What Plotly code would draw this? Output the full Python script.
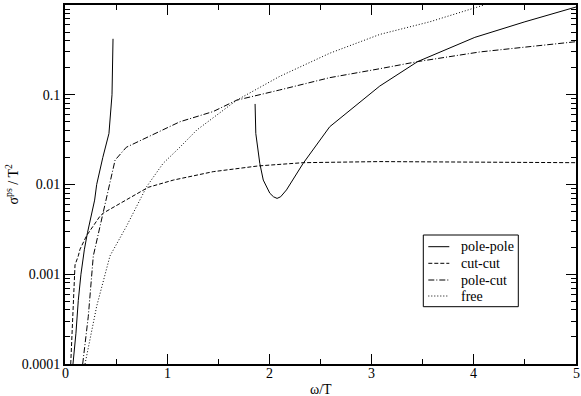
import plotly.graph_objects as go

# ===== data =====
# pole-pole: two branches (low-omega branch and the branch starting near 2T)
pp_x1 = [0.078, 0.107, 0.13, 0.156, 0.19, 0.22, 0.29, 0.31, 0.37, 0.43, 0.46, 0.465, 0.47]
pp_y1 = [1e-4, 2.2e-4, 5.1e-4, 1e-3, 1.9e-3, 2.9e-3, 6.7e-3, 0.01, 0.02, 0.037, 0.1, 0.2, 0.42]
pp_x2 = [1.86, 1.867, 1.906, 1.94, 2.004, 2.04, 2.075, 2.11, 2.167, 2.33, 2.59, 2.82, 3.08, 3.45, 4.01, 4.5, 5.0]
pp_y2 = [0.079, 0.037, 0.0172, 0.0112, 0.008, 0.0073, 0.0070, 0.0073, 0.0087, 0.0172, 0.044, 0.072, 0.125, 0.234, 0.436, 0.65, 0.95]

cc_x = [0.056, 0.098, 0.13, 0.147, 0.212, 0.34, 0.374, 0.6, 0.814, 1.06, 1.45, 1.89, 2.33, 3.08, 4.0, 5.0]
cc_y = [1e-4, 0.00127, 0.0016, 0.0019, 0.0027, 0.0044, 0.0048, 0.0067, 0.0093, 0.0112, 0.0139, 0.0161, 0.0175, 0.018, 0.0179, 0.0175]

pc_x = [0.173, 0.228, 0.277, 0.374, 0.49, 0.6, 0.814, 1.06, 1.124, 1.45, 1.68, 2.10, 2.59, 3.08, 3.45, 4.06, 5.0]
pc_y = [1e-4, 3.4e-4, 0.0016, 0.0048, 0.0187, 0.026, 0.034, 0.046, 0.050, 0.065, 0.087, 0.113, 0.155, 0.195, 0.234, 0.30, 0.39]

fr_x = [0.196, 0.31, 0.44, 0.60, 0.80, 0.96, 1.124, 1.29, 1.68, 2.10, 2.59, 3.08, 3.57, 4.06, 4.1]
fr_y = [1e-4, 4.4e-4, 0.0016, 0.0034, 0.0095, 0.0172, 0.026, 0.0405, 0.087, 0.16, 0.29, 0.47, 0.65, 0.975, 1.0]

x_ticks = [0, 1, 2, 3, 4, 5]
y_ticks = [1e-4, 1e-3, 1e-2, 1e-1, 1]
y_labels = ["0.0001", "0.001", "0.01", "0.1", "1"]

series_names = ['pole-pole', 'cut-cut', 'pole-cut', 'free']
series_dash = ['solid', '4px,2px', '6px,2px,1px,2px', '1px,2px']

FONT = "Liberation Serif, DejaVu Serif, serif"
W, H = 581, 396
ML, MR, MT, MB = 65, 5, 5, 32

fig = go.Figure()
xs = [pp_x1 + [None] + pp_x2, cc_x, pc_x, fr_x]
ys = [pp_y1 + [None] + pp_y2, cc_y, pc_y, fr_y]
for x, y, name, dash in zip(xs, ys, series_names, series_dash):
    fig.add_trace(go.Scatter(x=x, y=y, mode='lines', name=name, connectgaps=False,
                             showlegend=False,
                             line=dict(color='black', width=1, dash=dash)))

fig.update_xaxes(range=[0, 5], tickvals=x_ticks, showticklabels=False,
                 ticks='inside', ticklen=10,
                 tickcolor='black', showline=True, linecolor='black', linewidth=2,
                 mirror='allticks', showgrid=False, zeroline=False, automargin=False,
                 minor=dict(ticks='inside', ticklen=5, dtick=0.5, tick0=0, tickcolor='black'))

# x tick labels sit close under the axis, as in the reference
for v in x_ticks:
    fig.add_annotation(text=str(v), xref='x', yref='paper', x=v, y=0,
                       xanchor='center', yanchor='middle', yshift=-9, showarrow=False,
                       font=dict(family=FONT, size=14, color='black'))

minor_vals = [m * 10 ** e for e in range(-4, 0) for m in range(2, 10)]
fig.update_yaxes(type='log', range=[-4, 0], tickvals=y_ticks, ticktext=y_labels,
                 ticks='inside', ticklen=10, tickcolor='black', showline=True,
                 linecolor='black', linewidth=2, mirror='allticks', showgrid=False,
                 zeroline=False, automargin=False,
                 minor=dict(ticks='inside', ticklen=5, tickvals=minor_vals, tickcolor='black'),
                 tickfont=dict(family=FONT, size=14, color='black'))

# axis titles as annotations for exact placement
fig.add_annotation(text='σ<sup>ps</sup> / T<sup>2</sup>', xref='paper', yref='paper',
                   x=0, y=0.5, xanchor='center', yanchor='middle', xshift=-53,
                   textangle=-90, showarrow=False,
                   font=dict(family=FONT, size=14, color='black'))
fig.add_annotation(text='ω/T', xref='paper', yref='paper',
                   x=0.5, y=0, xanchor='center', yanchor='middle', yshift=-25,
                   showarrow=False, font=dict(family=FONT, size=14, color='black'))

# hand-made legend box (pixel positions -> paper coords)
pw, ph = W - ML - MR, H - MT - MB
px = lambda p: (p - ML) / pw
py = lambda p: (H - MB - p) / ph
fig.add_shape(type='rect', xref='paper', yref='paper',
              x0=px(423.3), x1=px(518.3), y0=py(306.7), y1=py(235),
              line=dict(color='black', width=1), fillcolor='white', layer='above')
rows = [246.7, 263.3, 280, 296]
for r, name, dash in zip(rows, series_names, series_dash):
    fig.add_shape(type='line', xref='paper', yref='paper',
                  x0=px(428.3), x1=px(449.3), y0=py(r), y1=py(r),
                  line=dict(color='black', width=1, dash=dash), layer='above')
    fig.add_annotation(text=name, xref='paper', yref='paper', x=px(459), y=py(r),
                       xanchor='left', yanchor='middle', showarrow=False,
                       font=dict(family=FONT, size=14, color='black'))

fig.update_layout(
    width=W, height=H,
    margin=dict(l=ML, r=MR, t=MT, b=MB),
    plot_bgcolor='white', paper_bgcolor='white',
    showlegend=False,
    font=dict(family=FONT),
)

fig.write_html("out.html", config={'displayModeBar': False},
               post_script="document.body.style.margin='0';")
